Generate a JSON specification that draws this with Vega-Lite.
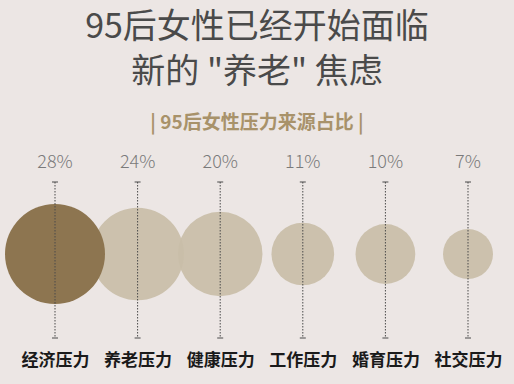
{
  "$schema": "https://vega.github.io/schema/vega-lite/v6.json",
  "width": 514,
  "height": 200,
  "autosize": {"type": "none"},
  "padding": {"top": 145, "bottom": 39, "left": 0, "right": 0},
  "background": "#ece6e4",
  "config": {"view": {"stroke": null}, "font": "Noto Sans CJK SC"},
  "title": {
    "text": ["95后女性已经开始面临", "新的 \"养老\" 焦虑"],
    "subtitle": "|  95后女性压力来源占比  |",
    "anchor": "middle",
    "frame": "group",
    "font": "Noto Sans CJK SC",
    "fontSize": 34,
    "fontWeight": "normal",
    "color": "#4a4a4a",
    "lineHeight": 45,
    "subtitleFont": "Noto Sans CJK SC",
    "subtitleFontSize": 19,
    "subtitleFontWeight": "bold",
    "subtitleColor": "#a8926a",
    "subtitlePadding": 24,
    "offset": 12
  },
  "data": {
    "values": [
      {"name": "经济压力", "pct": 0.28},
      {"name": "养老压力", "pct": 0.24},
      {"name": "健康压力", "pct": 0.20},
      {"name": "工作压力", "pct": 0.11},
      {"name": "婚育压力", "pct": 0.10},
      {"name": "社交压力", "pct": 0.07}
    ]
  },
  "encoding": {
    "x": {
      "field": "name",
      "type": "nominal",
      "sort": null,
      "scale": {"type": "point", "range": [55, 468], "padding": 0},
      "axis": {
        "title": null,
        "domain": false,
        "ticks": false,
        "grid": false,
        "labelAngle": 0,
        "labelPadding": 7,
        "labelFontSize": 17,
        "labelFontWeight": "bold",
        "labelColor": "#1a1a1a",
        "labelFont": "Noto Sans CJK SC"
      }
    }
  },
  "layer": [
    {
      "mark": {"type": "point", "filled": true, "shape": "circle", "strokeWidth": 0},
      "encoding": {
        "y": {"datum": 45.5, "type": "quantitative", "scale": {"domain": [0, 100]}, "axis": null},
        "size": {"field": "pct", "type": "quantitative", "scale": {"type": "linear", "domain": [0, 0.28], "range": [0, 10000], "nice": false, "zero": true}, "legend": null},
        "order": {"field": "pct", "type": "quantitative", "sort": "ascending"},
        "color": {
          "condition": {"test": "datum.name === '经济压力'", "value": "#8d7550"},
          "value": "#c9bea8"
        },
        "opacity": {
          "condition": {"test": "datum.name === '经济压力'", "value": 1},
          "value": 0.92
        }
      }
    },
    {
      "mark": {"type": "rule", "color": "#4a4a4a", "strokeWidth": 1, "strokeDash": [1.5, 1.5]},
      "encoding": {
        "y": {"datum": 81.5, "type": "quantitative"},
        "y2": {"datum": 3.5}
      }
    },
    {
      "mark": {"type": "tick", "orient": "horizontal", "color": "#4a4a4a", "opacity": 1, "size": 6, "thickness": 1},
      "encoding": {"y": {"datum": 81.5, "type": "quantitative"}}
    },
    {
      "mark": {"type": "tick", "orient": "horizontal", "color": "#4a4a4a", "opacity": 1, "size": 6, "thickness": 1},
      "encoding": {"y": {"datum": 3.5, "type": "quantitative"}}
    },
    {
      "mark": {"type": "text", "fontSize": 18, "fontWeight": 300, "color": "#7a7a7a", "baseline": "middle", "font": "Noto Sans CJK SC"},
      "encoding": {
        "y": {"datum": 91, "type": "quantitative"},
        "text": {"field": "pct", "type": "quantitative", "format": ".0%"}
      }
    }
  ]
}
